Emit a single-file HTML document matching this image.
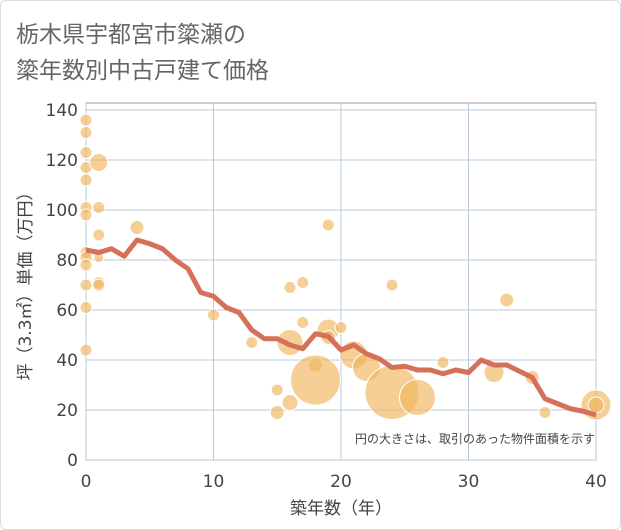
<!DOCTYPE html>
<html><head><meta charset="utf-8"><style>
body{margin:0;background:#fff;font-family:"Liberation Sans","Noto Sans CJK JP",sans-serif;}
#wrap{position:relative;width:619px;height:528px;border:1px solid #ddd;border-radius:6px;overflow:hidden;background:#fff}
</style></head><body>
<div id="wrap">
<svg id="chart" width="621" height="530" style="position:absolute;left:-1px;top:-1px">
<text x="16" y="42" font-size="23" fill="#666" font-family="DejaVu Sans,Noto Sans CJK JP,sans-serif">栃木県宇都宮市簗瀬の</text>
<text x="16" y="78" font-size="23" fill="#666" font-family="DejaVu Sans,Noto Sans CJK JP,sans-serif">簗年数別中古戸建て価格</text>
<g id="grid"></g><g id="bubbles"></g><g id="line"></g><g id="axes"></g>
<text x="595" y="443" font-size="12" fill="#444" text-anchor="end" font-family="Liberation Sans,Noto Sans CJK JP,sans-serif">円の大きさは、取引のあった物件面積を示す</text>
<text x="341" y="514" font-size="17" fill="#444" text-anchor="middle" font-family="DejaVu Sans,Noto Sans CJK JP,sans-serif">築年数（年）</text>
<text transform="translate(31,282) rotate(-90)" font-size="17" fill="#444" text-anchor="middle" font-family="DejaVu Sans,Noto Sans CJK JP,sans-serif">坪（3.3㎡）単価（万円）</text>
</svg>
</div>
<script>
const xTicks=[0,10,20,30,40];
const yTicks=[0,20,40,60,80,100,120,140];
const lineYears=[0,1,2,3,4,5,6,7,8,9,10,11,12,13,14,15,16,17,18,19,20,21,22,23,24,25,26,27,28,29,30,31,32,33,34,35,36,37,38,39,40];
const lineValues=[84,83,84.5,81.5,88,86.5,84.5,80,76.5,67,65.5,61,59,52,48.5,48.5,46,44.5,50.5,49.5,44,46,42.5,40.5,37,37.5,36,36,34.5,36,35,40,38,38,35.5,33,24.5,22.5,20.5,19.5,18];
const bubbleYears=[0,0,0,0,0,0,0,0,0,0,0,0,0,1,1,1,1,1,1,4,10,13,15,15,16,16,16,17,17,18,18,19,19,19,20,21,22,24,24,26,28,32,33,35,36,40,40];
const bubbleValues=[136,131,123,117,112,101,98,83,81,78,70,61,44,119,101,90,81,71,70,93,58,47,28,19,69,47,23,71,55,38,32,94,52,49,53,42,37,70,27,25,39,35,64,33,19,22,22];
const bubbleSizes=[6,6,6,6,6,6,6,6,6,6,6,6,6,9,6,6,5,6,6,7,6,6,6,7,6,13,8,6,6,7,25,6,11,7,6,14,14,6,27,18,6,10,7,7,6,15,8];
const NS='http://www.w3.org/2000/svg';
const X0=86,X1=596,Y0=460,Y1=110;
const xs=v=>X0+(X1-X0)*v/40;
const ys=v=>Y0-(Y0-Y1)*v/140;
function mk(t,a,p){const e=document.createElementNS(NS,t);for(const k in a)e.setAttribute(k,a[k]);p.appendChild(e);return e;}
const grid=document.getElementById('grid'),axes=document.getElementById('axes');
mk('rect',{x:X0,y:103,width:X1-X0,height:Y0-103,fill:'#fff',stroke:'#999','stroke-width':1},grid);
xTicks.forEach(v=>{const l=mk('line',{x1:xs(v),x2:xs(v),y1:103,y2:Y0,stroke:'#b8c8da','stroke-width':1},grid);

const t=mk('text',{x:xs(v),y:487,'font-size':17,fill:'#444','text-anchor':'middle','font-family':'DejaVu Sans,sans-serif'},axes);t.textContent=v;
});
yTicks.forEach(v=>{const l=mk('line',{x1:X0,x2:X1,y1:ys(v),y2:ys(v),stroke:'#b8c8da','stroke-width':1},grid);

const t=mk('text',{x:78,y:ys(v)+6,'font-size':17,fill:'#444','text-anchor':'end','font-family':'DejaVu Sans,sans-serif'},axes);t.textContent=v;
});
const bg=document.getElementById('bubbles');
bubbleYears.forEach((yr,i)=>{const c=mk('circle',{cx:xs(yr),cy:ys(bubbleValues[i]),r:bubbleSizes[i],fill:'#f0b55c','fill-opacity':0.65,stroke:'#fff','stroke-width':1},bg);
});
const pts=lineYears.map((yr,i)=>xs(yr)+','+ys(lineValues[i])).join(' ');
const pl=mk('polyline',{points:pts,fill:'none',stroke:'#d5705a','stroke-width':5,'stroke-linejoin':'round'},document.getElementById('line'));

</script>
</body></html>
